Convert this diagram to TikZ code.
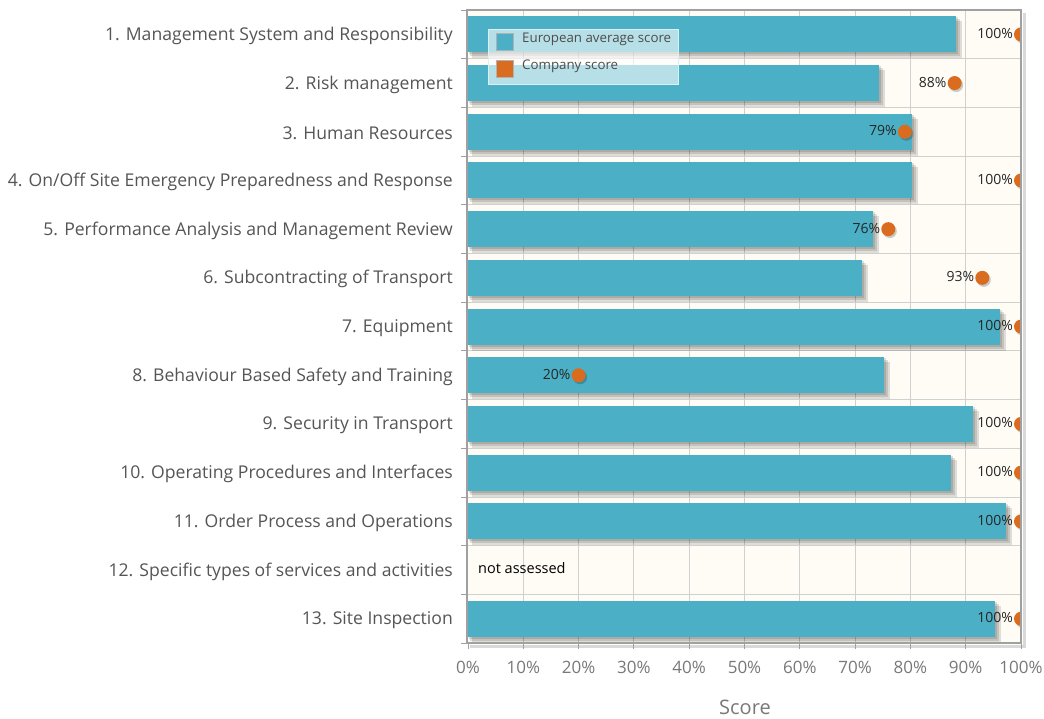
\documentclass[tikz,border=0pt]{standalone}
\usepackage{fontspec}
\setmainfont{Open Sans}
\definecolor{barblue}{RGB}{75,176,197}
\definecolor{dotorange}{RGB}{217,108,30}
\definecolor{plotbg}{RGB}{254,252,245}
\definecolor{gridgray}{RGB}{208,208,208}
\definecolor{bordergray}{RGB}{160,160,160}
\definecolor{labgray}{RGB}{85,85,85}
\definecolor{axgray}{RGB}{120,120,120}
\begin{document}
\begin{tikzpicture}[x=1pt,y=-1pt,
  catlabel/.style={anchor=east,inner sep=0pt,text=labgray,font=\fontsize{17.6}{20}\selectfont},
  ticklabel/.style={anchor=center,inner sep=0pt,text=axgray,font=\fontsize{17}{20}\selectfont},
  datalabel/.style={anchor=east,inner sep=0pt,text=black!85,font=\fontsize{14}{16}\selectfont},
  legendtext/.style={anchor=west,inner sep=0pt,text=black!70,font=\fontsize{13.3}{15}\selectfont},
  bar/.style={fill=barblue,draw=none},
  barshadow/.style={fill=black,opacity=0.12,draw=none},
  dot/.style={fill=dotorange,draw=none},
  grid/.style={draw=gridgray,line width=1pt},
  axis/.style={draw=bordergray,line width=1.5pt},
  tick/.style={draw=bordergray,line width=1pt}]
\useasboundingbox (0,0) rectangle (1044,718);
% plot background
\fill[plotbg] (467,10) rectangle (1021,643);
% vertical grid
\foreach \p in {10,20,...,90}{
  \draw[grid] ({468+5.53*\p},10) -- ({468+5.53*\p},643);
}
% horizontal grid
\foreach \i in {1,...,12}{
  \draw[grid] (467,{10+48.7*\i}) -- (1021,{10+48.7*\i});
}
% bars
\foreach \i/\v in {1/88.2,2/74.3,3/80.3,4/80.3,5/73.2,6/71.2,7/96.2,8/75.2,9/91.3,10/87.3,11/97.3,13/95.3}{
  \pgfmathsetmacro{\yc}{10+48.7*(\i-0.5)}
  \pgfmathsetmacro{\xe}{468+5.53*\v}
  \fill[barshadow] (472,\yc-13) rectangle (\xe+6,\yc+24);
  \fill[barshadow] (470,\yc-15) rectangle (\xe+4,\yc+22);
  \fill[barshadow] (469,\yc-17) rectangle (\xe+2,\yc+20);
  \fill[bar] (468,\yc-18) rectangle (\xe,\yc+18);
}
% legend
\fill[white,opacity=0.6] (488,29) rectangle (678,84);
\draw[white!80!barblue,line width=1pt] (488,29) rectangle (678,84);
\fill[barblue,draw=white!70!black,line width=0.5pt] (496,33) rectangle (513,50);
\fill[dotorange,draw=white!70!black,line width=0.5pt] (496,60) rectangle (513,77);
\node[legendtext] (leg1) at (522,39) {European average score};
\node[legendtext] (leg2) at (522,66) {Company score};
% company dots (clipped to plot area)
\begin{scope}
\clip (467,10) rectangle (1021,643);
\foreach \i/\c in {1/100,2/88,3/79,4/100,5/76,6/93,7/100,8/20,9/100,10/100,11/100,13/100}{
  \pgfmathsetmacro{\yc}{10+48.7*(\i-0.5)}
  \pgfmathsetmacro{\xd}{468+5.53*\c}
  \fill[black,opacity=0.2] (\xd+1.5,\yc+2) circle (7);
  \fill[dot] (\xd,\yc) circle (7);
}
\end{scope}
% data labels
\foreach \i/\c in {1/100,2/88,3/79,4/100,5/76,6/93,7/100,8/20,9/100,10/100,11/100,13/100}{
  \pgfmathsetmacro{\yc}{10+48.7*(\i-0.5)}
  \pgfmathsetmacro{\xd}{468+5.53*\c}
  \node[datalabel] (d\i) at (\xd-8,\yc-1) {\c\%};
}
\node[anchor=west,inner sep=0pt,text=black,font=\fontsize{14.5}{16}\selectfont] (na) at (478,568) {not assessed};
% border
\draw[black,opacity=0.15,line width=3pt] (1024,13) -- (1024,646) -- (470,646);
\draw[axis] (467,10) rectangle (1021,643);
% ticks
\foreach \i in {0,...,13}{
  \draw[tick] (461,{10+48.7*\i}) -- (467,{10+48.7*\i});
}
\foreach \p in {0,10,...,100}{
  \draw[tick] ({468+5.53*\p},643) -- ({468+5.53*\p},649);
  \node[ticklabel] (t\p) at ({468+5.53*\p},667) {\p\%};
}
\node[anchor=center,inner sep=0pt,text=axgray,font=\fontsize{20}{24}\selectfont] (score) at (745,707) {Score};
% category labels
\foreach \i/\lab in {1/{1. Management System and Responsibility},2/{2. Risk management},3/{3. Human Resources},4/{4. On/Off Site Emergency Preparedness and Response},5/{5. Performance Analysis and Management Review},6/{6. Subcontracting of Transport},7/{7. Equipment},8/{8. Behaviour Based Safety and Training},9/{9. Security in Transport},10/{10. Operating Procedures and Interfaces},11/{11. Order Process and Operations},12/{12. Specific types of services and activities},13/{13. Site Inspection}}{
  \node[catlabel] (c\i) at (453,{10+48.7*(\i-0.5)+1.5}) {\lab};
}
\end{tikzpicture}
\end{document}
